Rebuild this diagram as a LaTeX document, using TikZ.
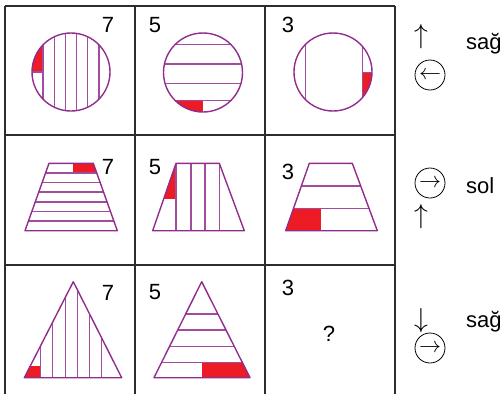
\documentclass[tikz,border=0pt]{standalone}
\usepackage{fix-cm}
\usepackage{graphicx}
\usepackage{fontspec}
\setmainfont{Liberation Sans}
\usepackage{xcolor}
\definecolor{shapepurple}{RGB}{145,45,140}
\definecolor{markred}{RGB}{237,28,36}
\definecolor{gridgray}{RGB}{45,45,45}

\begin{document}
\begin{tikzpicture}[x=1pt,y=-1pt,
  gridline/.style={draw=gridgray,line width=1.6pt},
  shp/.style={draw=shapepurple,line width=1.4pt,line join=round},
  strip/.style={draw=shapepurple!85,line width=1.5pt},
  redpart/.style={fill=markred},
  num/.style={font=\fontsize{22}{26}\selectfont,inner sep=0pt},
  arr/.style={font=\fontsize{22}{26}\selectfont,inner sep=0pt},
  dirring/.style={draw,circle,line width=0.8pt,minimum size=30pt,inner sep=0pt,
    font=\fontsize{22}{26}\selectfont}]
  \useasboundingbox (0,0) rectangle (504,394);

  % grid
  \foreach \y in {6,135,265} \draw[gridline] (5,\y) -- (395,\y);
  \foreach \x in {5,135,265,395} \draw[gridline] (\x,6) -- (\x,400);

  % row 1: circles
  \begin{scope}
    \clip (71,72) circle (39pt);
    \fill[redpart] (30,30) rectangle (43.1,72);
    \foreach \x in {43.1,54.3,65.4,76.6,87.7,98.9} \draw[strip] (\x,30) -- (\x,115);
    \draw[strip] (30,72) -- (43.1,72);
  \end{scope}
  \draw[shp] (71,72) circle (39pt);
  \begin{scope}
    \clip (203,72.5) circle (39.5pt);
    \fill[redpart] (160,100.7) rectangle (203,115);
    \foreach \y in {44.3,64,83.3,100.7} \draw[strip] (160,\y) -- (246,\y);
  \end{scope}
  \draw[shp] (203,72.5) circle (39.5pt);
  \begin{scope}
    \clip (333,72) circle (39pt);
    \fill[redpart] (362.3,72.3) rectangle (375,115);
    \foreach \x in {305.7,362.3} \draw[strip] (\x,30) -- (\x,115);
    \draw[strip] (362.3,72.3) -- (375,72.3);
  \end{scope}
  \draw[shp] (333,72) circle (39pt);

  % row 2: trapezoids
  \begin{scope}
    \clip (49,163.3) -- (93.3,163.3) -- (117.3,230.7) -- (25,230.7) -- cycle;
    \fill[redpart] (72.7,160) rectangle (120,172.9);
    \foreach \y in {172.9,182.6,192.2,201.8,211.5,221.1} \draw[strip] (20,\y) -- (120,\y);
  \end{scope}
  \draw[shp] (49,163.3) -- (93.3,163.3) -- (117.3,230.7) -- (25,230.7) -- cycle;
  \begin{scope}
    \clip (176,163.3) -- (219.3,163.3) -- (244.3,230.7) -- (152.7,230.7) -- cycle;
    \fill[redpart] (150,160) rectangle (176,198.7);
    \foreach \x in {176,191,205,219.3} \draw[strip] (\x,160) -- (\x,235);
  \end{scope}
  \draw[shp] (176,163.3) -- (219.3,163.3) -- (244.3,230.7) -- (152.7,230.7) -- cycle;
  \begin{scope}
    \clip (309.3,163.3) -- (352.3,163.3) -- (377.3,230.7) -- (285.7,230.7) -- cycle;
    \fill[redpart] (280,208.3) rectangle (320.7,235);
    \foreach \y in {186,208.3} \draw[strip] (280,\y) -- (385,\y);
  \end{scope}
  \draw[shp] (309.3,163.3) -- (352.3,163.3) -- (377.3,230.7) -- (285.7,230.7) -- cycle;

  % row 3: triangles
  \begin{scope}
    \clip (73.3,281.7) -- (121.7,377.7) -- (24.3,377.7) -- cycle;
    \fill[redpart] (20,366) rectangle (40.7,380);
    \foreach \x in {40.7,52.7,65.7,77.3,89.3,101.7} \draw[strip] (\x,278) -- (\x,380);
  \end{scope}
  \draw[shp] (73.3,281.7) -- (121.7,377.7) -- (24.3,377.7) -- cycle;
  \begin{scope}
    \clip (201.7,281.7) -- (250,377.7) -- (154,377.7) -- cycle;
    \fill[redpart] (201.7,362.7) rectangle (255,380);
    \foreach \y in {314,330,346.7,362.7} \draw[strip] (150,\y) -- (255,\y);
  \end{scope}
  \draw[shp] (201.7,281.7) -- (250,377.7) -- (154,377.7) -- cycle;

  % numbers
  \node[num] (n11) at (108,25) {7};
  \node[num] (n12) at (155,25) {5};
  \node[num] (n13) at (288,25) {3};
  \node[num] (n21) at (108,166.7) {7};
  \node[num] (n22) at (155,166.7) {5};
  \node[num] (n23) at (288,171.7) {3};
  \node[num] (n31) at (108,293.3) {7};
  \node[num] (n32) at (155,291.7) {5};
  \node[num] (n33) at (288,288.3) {3};
  \node[num] (ask) at (329,334) {?};

  % rules on the right
  \node[arr] (up1) at (421,37) {\scalebox{1.25}{$\uparrow$}};
  \node[dirring] (ring1) at (430,75) {$\leftarrow$};
  \node[num,anchor=base west] (side1) at (466,49) {sağ};
  \node[dirring] (ring2) at (430,183) {$\rightarrow$};
  \node[num,anchor=base west] (side2) at (466,193) {sol};
  \node[arr] (up2) at (421,217) {\scalebox{1.25}{$\uparrow$}};
  \node[arr] (down3) at (421,321) {\scalebox{1.25}{$\downarrow$}};
  \node[num,anchor=base west] (side3) at (466,327) {sağ};
  \node[dirring] (ring3) at (430,348) {$\rightarrow$};
\end{tikzpicture}
\end{document}
